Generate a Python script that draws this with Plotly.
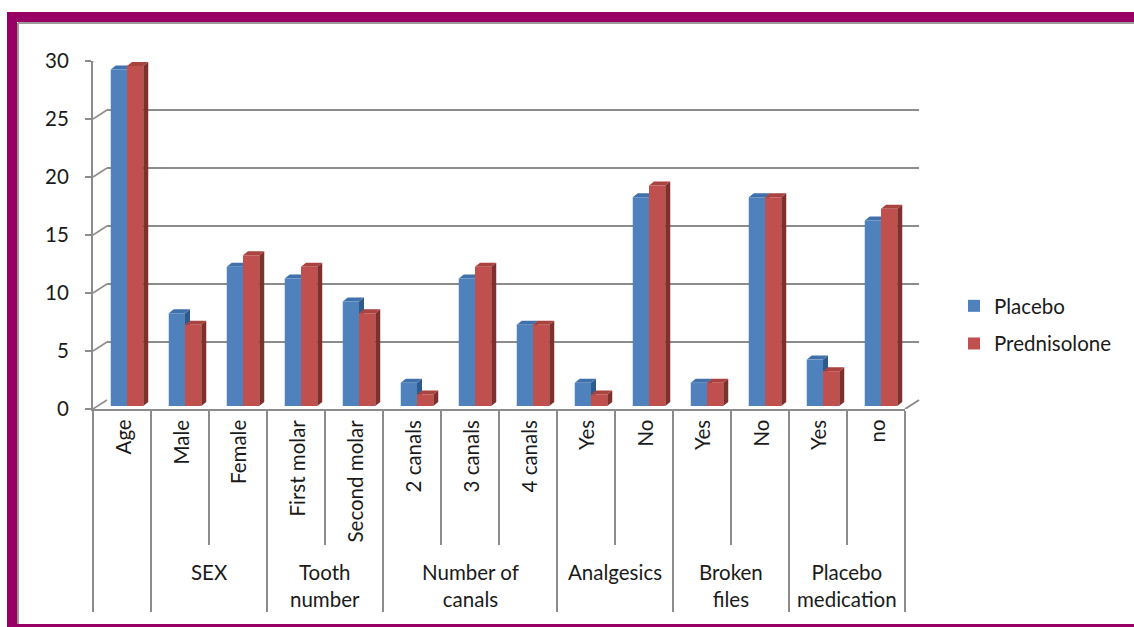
import plotly.graph_objects as go

# ---------------- data ----------------
categories = ["Age", "Male", "Female", "First molar", "Second molar",
              "2 canals", "3 canals", "4 canals", "Yes", "No", "Yes", "No", "Yes", "no"]
groups = ["", "SEX", "Tooth<br>number", "Number of<br>canals", "Analgesics",
          "Broken<br>files", "Placebo<br>medication"]
group_sizes = [1, 2, 2, 3, 2, 2, 2]
placebo = [29.0, 8, 12, 11, 9, 2, 11, 7, 2, 18, 2, 18, 4, 16]
prednisolone = [29.3, 7, 13, 12, 8, 1, 12, 7, 1, 19, 2, 18, 3, 17]
series_names = ["Placebo", "Prednisolone"]
y_ticks = [0, 5, 10, 15, 20, 25, 30]

# ---------------- styling ----------------
W, H = 1134, 627
FONT = "Lato, 'Open Sans', sans-serif"
FS = 20.5
GRID = "#8c8c8c"
TXT = "#1a1a1a"
front_col = ["#4F81BD", "#C0504D"]
top_col = ["#4171AB", "#A9433F"]
side_col = ["#2F5A8C", "#7E302D"]
PURPLE = "#990066"

def fx(p):
    return p / W

def fy(p):
    return 1 - p / H

n = len(categories)
xs = list(range(n))
xr = [-0.5, n - 0.5]
yr = [0, 30]

# plane geometry (pixels): front axis, bar plane, back wall
front = dict(x0=93, x1=905, y0=409, y1=61)
bars_p = dict(x0=98, x1=910, y0=406, y1=58)
back = dict(x0=107, x1=919, y0=400, y1=52)

fig = go.Figure()

# empty trace so the back-wall subplot (gridlines) is created
fig.add_trace(go.Scatter(x=[], y=[], xaxis="x2", yaxis="y2", showlegend=False, hoverinfo="skip"))

bar_w = 0.28
for k, (name, vals) in enumerate(zip(series_names, [placebo, prednisolone])):
    fig.add_trace(go.Bar(
        x=xs, y=vals, name=name, width=bar_w,
        offset=-bar_w if k == 0 else 0,
        marker=dict(color=front_col[k], line=dict(width=0)),
        xaxis="x3", yaxis="y3", legendgroup=name,
    ))

# 3D depth of each bar (top + side faces), converted from pixels to data units
ux = (bars_p["x1"] - bars_p["x0"]) / (xr[1] - xr[0])
uy = (bars_p["y0"] - bars_p["y1"]) / (yr[1] - yr[0])
ddx, ddy = 5 / ux, 4 / uy
shapes = []
for k, vals in enumerate([placebo, prednisolone]):
    for i, v in enumerate(vals):
        x0 = i - bar_w if k == 0 else i
        x1 = x0 + bar_w
        shapes.append(dict(
            type="path", xref="x3", yref="y3", layer="below",
            path=f"M{x1},0 L{x1},{v} L{x1+ddx},{v+ddy} L{x1+ddx},{ddy} Z",
            fillcolor=side_col[k], line=dict(width=0)))
        shapes.append(dict(
            type="path", xref="x3", yref="y3", layer="below",
            path=f"M{x0},{v} L{x1},{v} L{x1+ddx},{v+ddy} L{x0+ddx},{v+ddy} Z",
            fillcolor=top_col[k], line=dict(width=0)))

# frame
frame = [
    dict(type="rect", xref="paper", yref="paper", x0=fx(7), x1=1.05, y0=-0.05, y1=fy(12),
         fillcolor=PURPLE, line=dict(width=0), layer="below"),
    dict(type="rect", xref="paper", yref="paper", x0=fx(17), x1=1.05, y0=fy(624), y1=fy(22),
         fillcolor="white", line=dict(width=0), layer="below"),
    dict(type="line", xref="paper", yref="paper", x0=fx(18), x1=fx(18), y0=fy(624), y1=fy(23),
         line=dict(color="#9a9a9a", width=2), layer="below"),
    dict(type="line", xref="paper", yref="paper", x0=fx(18), x1=1.05, y0=fy(23), y1=fy(23),
         line=dict(color="#9a9a9a", width=2), layer="below"),
]
# side-wall diagonals connecting front ticks to back-wall gridlines
dpx = back["x0"] - front["x0"]
dpy = front["y0"] - back["y0"]
diag = []
for v in y_ticks:
    diag.append(dict(type="line", xref="paper", yref="y", ysizemode="pixel", yanchor=v,
                     x0=fx(front["x0"]), x1=fx(front["x0"] + dpx), y0=0, y1=dpy,
                     line=dict(color=GRID, width=1.5)))
diag.append(dict(type="line", xref="paper", yref="y", ysizemode="pixel", yanchor=0,
                 x0=fx(front["x1"]), x1=fx(front["x1"] + dpx), y0=0, y1=dpy,
                 line=dict(color=GRID, width=2)))

# divider positions from group sizes
group_bounds = [-0.5]
inner_bounds = []
centers = []
pos = -0.5
for s in group_sizes:
    for j in range(1, s):
        inner_bounds.append(pos + j)
    centers.append(pos + s / 2)
    pos += s
    group_bounds.append(pos)

annotations = []
for i, c in enumerate(categories):
    annotations.append(dict(x=i, xref="x", y=fy(418), yref="paper", text=c, textangle=-90,
                            showarrow=False, xanchor="center", yanchor="top",
                            font=dict(family=FONT, size=FS, color=TXT)))
for g, cx in zip(groups, centers):
    if g:
        annotations.append(dict(x=cx, xref="x", y=fy(558), yref="paper", text=g,
                                showarrow=False, xanchor="center", yanchor="top",
                                font=dict(family=FONT, size=FS, color=TXT)))

fig.update_layout(
    width=W, height=H,
    margin=dict(l=0, r=0, t=0, b=0, pad=0, autoexpand=False),
    paper_bgcolor="white", plot_bgcolor="rgba(0,0,0,0)",
    font=dict(family=FONT, size=FS, color=TXT),
    barmode="overlay",
    showlegend=True,
    legend=dict(x=fx(954), y=fy(286), xanchor="left", yanchor="top",
                font=dict(family=FONT, size=FS, color=TXT), traceorder="grouped",
                tracegroupgap=8, bgcolor="rgba(0,0,0,0)"),
    xaxis=dict(domain=[fx(front["x0"]), fx(front["x1"])], range=xr, anchor="y",
               automargin=False,
               showline=True, linecolor=GRID, linewidth=2, showgrid=False, zeroline=False,
               tickmode="array", tickvals=group_bounds, ticks="outside", ticklen=201,
               tickcolor=GRID, tickwidth=2, showticklabels=False,
               minor=dict(tickmode="array", tickvals=inner_bounds, ticks="outside", ticklen=134,
                          tickcolor=GRID, tickwidth=2, showgrid=False)),
    yaxis=dict(domain=[fy(front["y0"]), fy(front["y1"])], range=yr, anchor="x",
               automargin=False,
               tickmode="array", tickvals=y_ticks, ticks="outside", ticklen=6,
               tickcolor=GRID, tickwidth=1.5, showline=True, linecolor=GRID, linewidth=2,
               showgrid=False, zeroline=False, ticklabelstandoff=12,
               tickfont=dict(family=FONT, size=FS, color=TXT)),
    xaxis2=dict(domain=[fx(back["x0"]), fx(back["x1"])], range=xr, anchor="y2",
                automargin=False,
                showline=False, showgrid=False, zeroline=False, showticklabels=False, ticks=""),
    yaxis2=dict(domain=[fy(back["y0"]), fy(back["y1"])], range=yr, anchor="x2",
                automargin=False,
                tickmode="array", tickvals=y_ticks, showgrid=True, gridcolor=GRID, gridwidth=1.5,
                showline=False, zeroline=False, showticklabels=False, ticks=""),
    xaxis3=dict(domain=[fx(bars_p["x0"]), fx(bars_p["x1"])], range=xr, anchor="y3",
                visible=False, automargin=False),
    yaxis3=dict(domain=[fy(bars_p["y0"]), fy(bars_p["y1"])], range=yr, anchor="x3",
                visible=False, automargin=False),
    shapes=frame + diag + shapes,
    annotations=annotations,
)

fig.write_html("out.html")
